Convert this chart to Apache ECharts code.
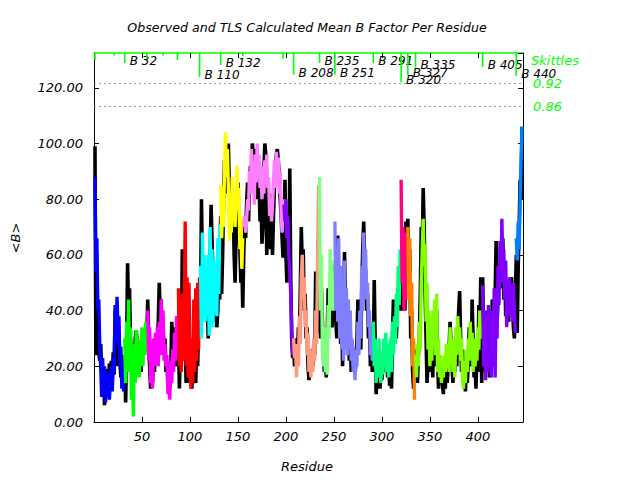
<!DOCTYPE html>
<html><head><meta charset="utf-8">
<script src="https://cdn.jsdelivr.net/npm/echarts@6/dist/echarts.min.js"></script>
<style>html,body{margin:0;padding:0;background:#fff}#c{width:640px;height:480px}</style>
</head><body><div id="c"></div>
<script>
// Observed mean B per residue (residues 1..446)
const obsB = [
99,24,40,26,25,22,28,18,12,17,6,14,10,19,12,21,14,22,13,25,17,40,24,42,20,30,22,16,24,12,18,
20,7,28,57,40,48,30,24,12,20,16,30,33,28,22,17,25,18,28,24,33,28,35,30,
44,30,20,12,22,14,26,18,30,24,28,36,50,38,44,30,34,24,30,18,22,14,20,12,18,36,26,34,26,30,20,28,
30,12,28,22,62,40,50,30,14,40,20,28,14,18,12,24,30,16,14,28,20,36,44,
40,80,52,58,42,50,36,44,30,48,58,78,65,52,42,36,48,34,40,56,44,
74,46,60,80,94,82,100,90,100,84,76,88,70,80,60,50,66,76,86,70,62,50,58,41,
60,72,66,78,86,72,84,92,88,100,96,98,84,90,80,94,86,72,80,64,70,90,100,96,60,75,68,82,62,72,60,74,84,90,96,98,94,88,80,74,66,59,
70,87,60,50,66,56,91,52,30,23,
26,20,24,30,22,34,28,48,70,56,62,40,46,30,34,20,15,22,18,26,20,28,24,54,32,48,66,
50,30,48,36,24,18,26,16,30,48,38,50,44,34,42,56,
46,36,30,67,40,52,28,44,20,38,61,44,34,26,38,22,32,18,28,20,26,17,22,30,44,28,34,26,48,62,72,58,54,40,46,30,36,20,26,18,
22,51,28,10,20,14,24,12,18,15,22,26,18,28,22,16,24,13,20,12,30,44,32,38,30,40,48,44,50,
40,62,48,56,40,72,58,
73,50,62,30,40,18,12,22,
26,20,14,24,30,46,70,60,84,70,48,30,14,22,18,30,22,26,16,36,24,20,40,22,12,20,16,22,14,10,
18,12,22,14,20,26,36,28,20,14,22,18,28,20,32,40,47,30,18,26,14,18,11,20,14,22,34,28,20,44,
30,16,22,12,24,18,42,30,52,14,
52,30,18,32,24,40,28,16,34,22,44,30,20,46,65,36,44,58,48,60,52,66,44,54,38,50,42,36,46,40,52,44,34,30,44,
60,32,56,70,87,80,106
];
// TLS calculated mean B per residue (residues 1..446)
const tlsB = [
88,54,66,40,44,27,20,9,23,12,20,7,15,10,18,8,14,20,11,23,18,42,28,45,33,38,20,27,12,22,11,
30,14,36,18,44,22,34,8,20,2,28,14,33,18,30,16,28,22,34,20,33,24,36,25,
40,22,34,14,26,12,30,20,32,22,34,20,36,24,44,26,40,22,28,20,24,10,18,8,22,14,26,18,32,22,38,26,
48,20,44,18,46,22,38,72,20,52,16,50,22,12,30,14,44,18,48,22,50,26,52,
56,30,68,38,60,36,55,38,60,31,70,40,62,34,58,40,52,38,66,46,71,
85,66,80,70,92,104,88,98,84,65,78,68,88,72,82,70,80,92,76,84,62,74,55,66,
70,74,68,72,80,76,90,84,98,82,92,78,96,86,100,90,96,84,92,80,86,82,94,88,96,84,88,74,80,72,78,86,94,84,97,88,95,82,90,75,68,80,
78,72,80,66,74,60,54,46,34,24,
30,23,28,16,26,20,38,28,52,60,44,52,34,40,24,32,18,26,16,24,18,30,22,40,28,60,85,
88,40,60,26,20,34,18,28,17,42,30,62,44,58,40,52,
72,40,60,36,66,30,56,26,50,22,58,30,48,24,44,28,40,22,30,18,24,15,26,20,36,24,40,30,56,40,68,50,62,44,50,34,40,24,32,22,
36,20,30,14,26,16,30,18,14,24,17,30,20,32,18,28,16,24,30,18,36,24,38,28,46,34,56,42,62,
87,50,70,40,68,44,62,
70,44,66,38,50,20,30,8,
24,16,28,20,36,26,50,62,73,56,64,36,50,26,40,20,32,22,40,30,44,24,46,18,30,16,24,14,20,16,
24,18,28,20,26,18,34,22,30,18,26,16,34,24,38,28,34,22,30,16,12,22,14,26,18,30,22,36,26,32,
18,30,20,28,22,34,26,40,30,36,
49,20,40,15,38,18,42,20,36,16,40,24,48,16,44,30,56,42,65,50,73,56,62,44,58,34,50,40,52,38,46,36,50,40,32,
66,58,72,62,80,94,106
];
// TLS groups: first residue of each group and its colour
const groupStarts = [1,32,56,88,111,132,156,198,208,235,251,291,320,327,335,405,440];
const groupColors = ['#0000ff','#00ff00','#ff00ff','#ff0000','#00ffff','#ffff00','#ff80ff','#8000ff','#ff9980','#80ff80','#8080ff','#00ff80','#ff0080','#ff8000','#80ff00','#8000ff','#0080ff'];
// Skittles (group boundary markers)
const skittleRes = [1,21,32,55,72,87,110,132,155,197,208,235,251,291,320,327,335,405,440];
const skittleEnd = [130.0,131.6,128.9,130.4,131.6,130.0,123.9,128.2,131.4,130.4,124.7,128.9,124.7,128.9,122.0,124.6,127.3,127.6,124.3];
const skittleLabels = ['','','B 32','','','','B 110','B 132','','','B 208','B 235','B 251','B 291','B 320','B 327','B 335','B 405','B 440'];
const refLevels = [121.6, 113.2];
const refLabels = ['0.92','0.86'];
const xMin = 0, xMax = 447, xStep = 50;
const yMin = 0, yMax = 132.5, yStep = 20;

const FONT = '"DejaVu Sans", sans-serif';
const chart = echarts.init(document.getElementById('c'), null, {renderer:'svg'});

const series = [{
  type:'line', data: obsB.map((v,i)=>[i+1, v]), showSymbol:false, silent:true,
  lineStyle:{color:'#000', width:3.6}, z:2,
  markLine:{
    silent:true, symbol:'none', animation:false,
    lineStyle:{color:'#999', type:[2,3], width:1},
    label:{position:'end', distance:10, color:'#00ff00', fontFamily:FONT, fontStyle:'italic', fontSize:13},
    data: refLevels.map((v,i)=>({yAxis:v, label:{formatter:refLabels[i]}}))
  }
}];
groupStarts.forEach((s,g)=>{
  const e = (g+1<groupStarts.length ? groupStarts[g+1] : tlsB.length+1) - 1;
  const d = [];
  for (let r=s; r<=e; r++) d.push([r, tlsB[r-1]]);
  series.push({type:'line', data:d, showSymbol:false, silent:true, lineStyle:{color:groupColors[g], width:3.4}, z:3});
});
series.push({
  type:'custom', clip:false, silent:true, z:5,
  data: skittleRes.map((r,i)=>[r, skittleEnd[i], i]),
  renderItem(params, api){
    const i = api.value(2);
    const top = api.coord([api.value(0), yMax]);
    const bot = api.coord([api.value(0), api.value(1)]);
    const ch = [{type:'line', shape:{x1:top[0],y1:top[1],x2:bot[0],y2:bot[1]}, style:{stroke:'#00ff00', lineWidth:1.6}}];
    if (skittleLabels[i]) ch.push({type:'text', x:bot[0]+5, y:bot[1]-2,
      style:{text:skittleLabels[i], font:'italic 12px '+FONT, fill:'#000', align:'left', verticalAlign:'middle'}});
    return {type:'group', children:ch};
  }
});

const axisLbl = {fontFamily:FONT, fontStyle:'italic', fontSize:13, color:'#000'};
chart.setOption({
  animation:false,
  grid:{left:94, right:117, top:53, bottom:58, outerBoundsMode:'none'},
  xAxis:[{
    type:'value', min:xMin, max:xMax, interval:xStep, position:'bottom',
    splitLine:{show:false}, axisLine:{show:true, onZero:false, lineStyle:{color:'#000', width:1}},
    axisTick:{show:true, inside:true, length:5, lineStyle:{color:'#000'}},
    axisLabel:Object.assign({margin:8, showMinLabel:false, showMaxLabel:false,
      formatter:v=> (v%xStep===0 && v>xMin) ? String(v) : ''}, axisLbl)
  },{
    type:'value', min:xMin, max:xMax, interval:xStep, position:'top',
    splitLine:{show:false}, axisLine:{show:true, onZero:false, lineStyle:{color:'#00ff00', width:1.6}},
    axisTick:{show:true, inside:true, length:5, lineStyle:{color:'#000'}}, axisLabel:{show:false}
  }],
  yAxis:[{
    type:'value', min:yMin, max:yMax, interval:yStep, position:'left',
    splitLine:{show:false}, axisLine:{show:true, onZero:false, lineStyle:{color:'#000'}},
    axisTick:{show:true, inside:true, length:5, lineStyle:{color:'#000'}},
    axisLabel:Object.assign({margin:11, showMaxLabel:false,
      formatter:v=> (v%yStep===0) ? v.toFixed(2) : ''}, axisLbl)
  },{
    type:'value', min:yMin, max:yMax, interval:yStep, position:'right',
    splitLine:{show:false}, axisLine:{show:true, onZero:false, lineStyle:{color:'#000'}},
    axisTick:{show:true, inside:true, length:5, lineStyle:{color:'#000'}}, axisLabel:{show:false}
  }],
  graphic:[
    {type:'text', x:307, y:27, style:{text:'Observed and TLS Calculated Mean B Factor Per Residue', font:'italic 12.6px '+FONT, fill:'#000', align:'center', verticalAlign:'middle'}},
    {type:'text', x:307, y:466, style:{text:'Residue', font:'italic 13px '+FONT, fill:'#000', align:'center', verticalAlign:'middle'}},
    {type:'text', x:15, y:238, rotation:Math.PI/2, style:{text:'<B>', font:'italic 13px '+FONT, fill:'#000', align:'center', verticalAlign:'middle'}},
    {type:'text', x:531, y:60, style:{text:'Skittles', font:'italic 13px '+FONT, fill:'#00ff00', align:'left', verticalAlign:'middle'}}
  ],
  series
});
</script></body></html>
